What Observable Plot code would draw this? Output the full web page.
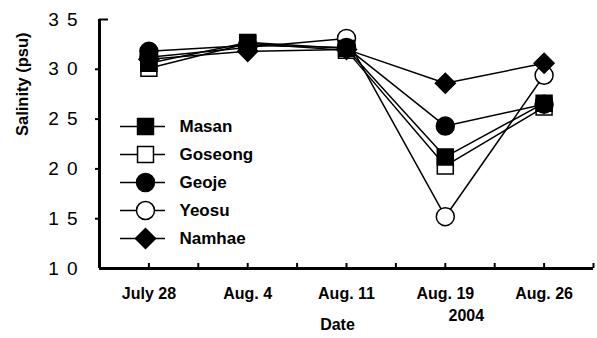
<!DOCTYPE html>
<html>
<head>
<meta charset="utf-8">
<script src="https://cdn.jsdelivr.net/npm/d3@7"></script>
<script src="https://cdn.jsdelivr.net/npm/@observablehq/plot@0.6"></script>
<style>
  body { margin: 0; background: #fff; }
  #chart { position: relative; width: 597px; height: 338px; }
  #legend { position: absolute; left: 120px; top: 111px; }
</style>
</head>
<body>
<div id="chart"><div id="legend"></div></div>
<script>
// Sampling dates (2004) and stations
const dates = ["July 28", "Aug. 4", "Aug. 11", "Aug. 19", "Aug. 26"];
const year = "2004";
const stations = ["Masan", "Goseong", "Geoje", "Yeosu", "Namhae"];

// Salinity (psu) per station, one value per date
const masan   = [30.6, 32.7, 32.1, 21.2, 26.6];
const goseong = [30.1, 32.6, 31.9, 20.3, 26.2];
const geoje   = [31.8, 32.4, 32.2, 24.3, 26.5];
const yeosu   = [31.2, 32.2, 33.1, 15.2, 29.4];
const namhae  = [31.0, 31.8, 32.0, 28.6, 30.6];

// Axis ticks
const yTicks = [10, 15, 20, 25, 30, 35];
const yOutTicks = [15, 20, 25, 30];
const yTop = [35];
const xTicks = d3.range(0, 4.51, 0.5);

const series = {Masan: masan, Goseong: goseong, Geoje: geoje, Yeosu: yeosu, Namhae: namhae};
const symbolOf = {Masan: "square", Goseong: "square", Geoje: "circle", Yeosu: "circle", Namhae: "diamond2"};
const fillOf = {Masan: "black", Goseong: "white", Geoje: "black", Yeosu: "white", Namhae: "black"};
const drawOrder = ["Goseong", "Yeosu", "Masan", "Geoje", "Namhae"];

const rows = stations.flatMap(s => series[s].map((v, i) => ({station: s, i, v})));

const font = "'Liberation Sans', Arial, sans-serif";
const R = 9;
const W = 597, H = 338, ML = 99, MR = 4, MT = 19, MB = 70;

const chart = Plot.plot({
  width: W,
  height: H,
  marginLeft: ML,
  marginRight: MR,
  marginTop: MT,
  marginBottom: MB,
  style: {fontFamily: font, color: "black", background: "white", overflow: "visible"},
  x: {type: "linear", domain: [-0.5, 4.5]},
  y: {domain: [10, 35]},
  marks: [
    // y axis: outward ticks, labels
    Plot.axisY(yOutTicks, {tickSize: 4, strokeWidth: 2, text: null, label: null}),
    Plot.axisY(yTicks, {tickSize: 0, tickPadding: 14, fontSize: 19, label: null}),
    // short inward cap at the top of the y axis
    Plot.ruleY(yTop, {strokeWidth: 2, insetRight: (W - ML - MR) - 9}),
    // x axis: short inward ticks at and between dates
    Plot.ruleX(xTicks, {strokeWidth: 2, insetTop: (H - MT - MB) - 5}),
    Plot.axisX([0, 1, 2, 3, 4], {tickSize: 0, tickPadding: 19, fontSize: 16, fontWeight: "bold",
      tickFormat: i => dates[i], label: null}),
    Plot.ruleX([-0.5], {strokeWidth: 3}),
    Plot.ruleY([10], {strokeWidth: 3}),
    // axis titles
    Plot.text(["Date"], {frameAnchor: "bottom", dx: -9, dy: 61, fontSize: 16, fontWeight: "bold"}),
    Plot.text([3], {x: d => d, text: () => year, frameAnchor: "bottom", dx: 21, dy: 52, fontSize: 16, fontWeight: "bold"}),
    Plot.text(["Salinity (psu)"], {frameAnchor: "left", rotate: -90, dx: -77, dy: -8, fontSize: 16.5, fontWeight: "bold"}),
    // station lines
    Plot.line(rows, {x: "i", y: "v", z: "station", stroke: "black", strokeWidth: 1.5}),
    // station markers
    ...drawOrder.map(s => Plot.dot(series[s], {
      x: (d, i) => i, y: d => d, r: R,
      symbol: symbolOf[s], fill: fillOf[s], stroke: "black", strokeWidth: 1.5
    }))
  ]
});

d3.select(chart).selectAll('[aria-label="y-axis tick label"] text').attr("letter-spacing", 8);
document.getElementById("chart").prepend(chart);

// Legend
const legend = Plot.plot({
  width: 140,
  height: 141,
  margin: 0,
  style: {fontFamily: font, color: "black", background: "transparent", overflow: "visible"},
  y: {type: "point", domain: stations, range: [14, 127], padding: 0, axis: null},
  marks: [
    Plot.ruleY(stations, {y: d => d, insetRight: 95, stroke: "black", strokeWidth: 1.5}),
    ...stations.map(s => Plot.dot([s], {
      y: d => d, frameAnchor: "left", dx: 25, r: R,
      symbol: symbolOf[s], fill: fillOf[s], stroke: "black", strokeWidth: 1.5
    })),
    Plot.text(stations, {y: d => d, frameAnchor: "left", dx: 59, textAnchor: "start",
      fontSize: 17, fontWeight: "bold"})
  ]
});
document.getElementById("legend").append(legend);
</script>
</body>
</html>
